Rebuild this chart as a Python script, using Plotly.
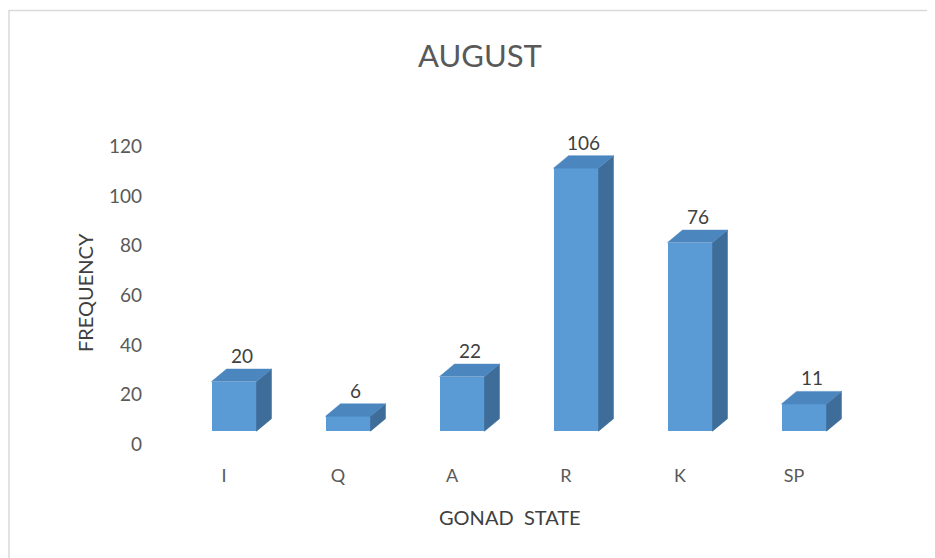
import plotly.graph_objects as go

categories = ["I", "Q", "A", "R", "K", "SP"]
values = [20, 6, 22, 106, 76, 11]
y_ticks = [0, 20, 40, 60, 80, 100, 120]

W, H = 935, 558
OFF = 8  # page body margin: figure origin sits at (8, 8) in the screenshot
L, R, T, B = 177 - OFF, 74 + OFF, 121 - OFF, 102 + OFF
PW, PH = W - L - R, H - T - B
px_per_cat = PW / 6.0
y_lo, y_hi = -10, 125
px_per_unit = PH / (y_hi - y_lo)

bw = 45 / px_per_cat          # bar width in category units
dx = 15 / px_per_cat          # depth offset x
dy = 12.5 / px_per_unit       # depth offset y
lab_shift = 10 / px_per_cat   # category label shift
ytick_shift = 13 / px_per_unit

FRONT = "#5B9BD5"
SIDE = "#3F6D99"
TOP = "#4C86BF"


def px(xp):
    return (xp - OFF - L) / PW


def py(yp):
    return 1 - (yp - OFF - T) / PH


xs = list(range(len(categories)))

fig = go.Figure()

# side faces
sx, sy = [], []
for x, v in zip(xs, values):
    r = x + bw / 2
    sx += [r, r + dx, r + dx, r, r, None]
    sy += [0, dy, v + dy, v, 0, None]
fig.add_trace(go.Scatter(x=sx, y=sy, fill="toself", fillcolor=SIDE, mode="lines",
                         line=dict(width=0.5, color=SIDE), hoverinfo="skip", showlegend=False))
# top faces
tx, ty = [], []
for x, v in zip(xs, values):
    l, r = x - bw / 2, x + bw / 2
    tx += [l, r, r + dx, l + dx, l, None]
    ty += [v, v, v + dy, v + dy, v, None]
fig.add_trace(go.Scatter(x=tx, y=ty, fill="toself", fillcolor=TOP, mode="lines",
                         line=dict(width=0.5, color=TOP), hoverinfo="skip", showlegend=False))
# front faces
fig.add_trace(go.Bar(x=xs, y=values, width=bw, marker=dict(color=FRONT, line=dict(width=0)),
                     showlegend=False))

font_fam = "Lato, 'Open Sans', sans-serif"
TXT = "#595959"
for x, v in zip(xs, values):
    fig.add_annotation(x=x + dx / 2, y=v + dy, text=str(v), showarrow=False,
                       yanchor="bottom", yshift=0,
                       font=dict(size=19, color="#404040", family=font_fam))

fig.update_layout(
    width=W, height=H,
    margin=dict(l=L, r=R, t=T, b=B),
    plot_bgcolor="white", paper_bgcolor="white",
    bargap=0,
    xaxis=dict(range=[-0.5, 5.5], tickmode="array",
               tickvals=[x - lab_shift for x in xs], ticktext=categories,
               showgrid=False, zeroline=False, showline=False, ticks="",
               tickfont=dict(size=18, color=TXT, family=font_fam),
               ticklabelstandoff=7),
    yaxis=dict(range=[y_lo, y_hi], tickmode="array",
               tickvals=[t - ytick_shift for t in y_ticks], ticktext=[str(t) for t in y_ticks],
               showgrid=False, zeroline=False, showline=False, ticks="",
               tickfont=dict(size=19, color=TXT, family=font_fam),
               ticklabelstandoff=34),
    annotations=list(fig.layout.annotations) + [
        dict(text="AUGUST", xref="paper", yref="paper",
             x=px(480), y=py(55),
             showarrow=False, xanchor="center", yanchor="middle",
             font=dict(size=31, color=TXT, family=font_fam)),
        dict(text="GONAD  STATE", xref="paper", yref="paper",
             x=px(510), y=py(517),
             showarrow=False, xanchor="center", yanchor="middle",
             font=dict(size=20, color="#404040", family=font_fam)),
        dict(text="FREQUENCY", xref="paper", yref="paper", textangle=-90,
             x=px(85), y=py(293),
             showarrow=False, xanchor="center", yanchor="middle",
             font=dict(size=20, color="#404040", family=font_fam)),
    ],
    shapes=[dict(type="rect", xref="paper", yref="paper",
                 x0=px(9), x1=px(W + 20),
                 y0=py(H + 20), y1=py(10.5),
                 line=dict(color="#D9D9D9", width=1.5), layer="below")],
)

fig.write_html("out.html")
